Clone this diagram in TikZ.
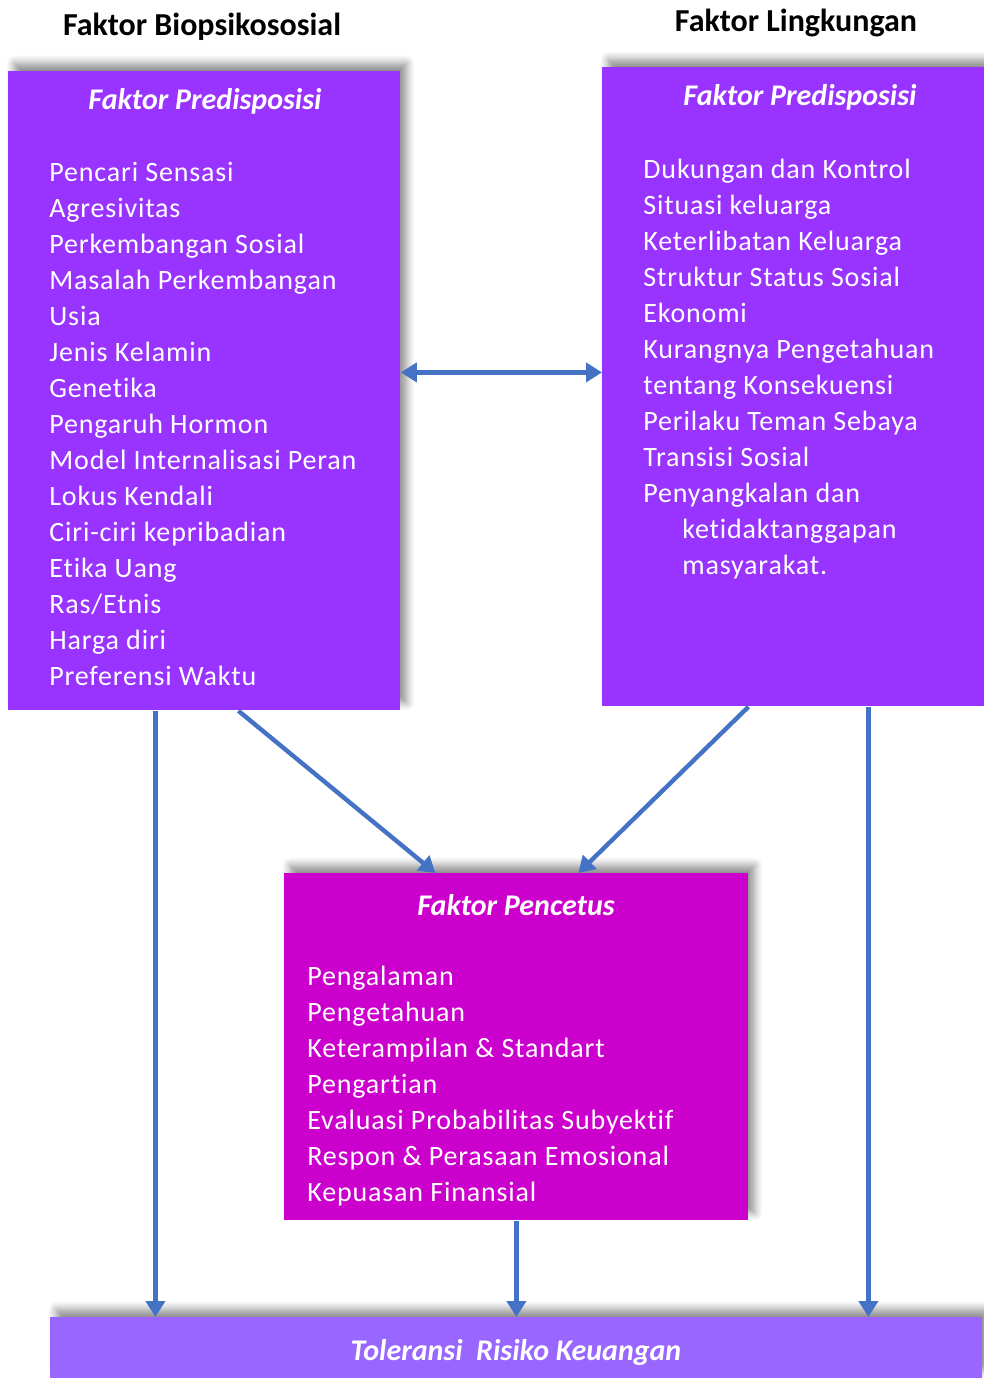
\documentclass[tikz,border=0pt]{standalone}
\usepackage{fontspec}
\setmainfont{Carlito}
\newfontfamily\renggang[LetterSpace=3,Ligatures={NoCommon,NoRequired,NoContextual}]{Carlito}
\usetikzlibrary{arrows.meta,shadows.blur}
\definecolor{ungu}{HTML}{9933FF}
\definecolor{magenta}{HTML}{CC00CC}
\definecolor{lavender}{HTML}{9966FF}
\definecolor{panah}{HTML}{4472C4}
\tikzset{
  kotak/.style={draw=none, anchor=north west, inner sep=0pt,
    blur shadow={shadow xshift=3pt, shadow yshift=4pt, shadow blur steps=8, shadow blur radius=4pt, shadow opacity=45}},
  judul/.style={font=\fontsize{16}{19}\selectfont\bfseries},
  subjudul/.style={text=white, font=\fontsize{15}{18}\selectfont\bfseries\itshape},
  daftar/.style={text=white, anchor=north west, inner sep=0pt, align=left,
    font=\renggang\fontsize{14}{18}\selectfont},
  konektor/.style={draw=panah, line width=2.2pt, -{Triangle[length=8pt, width=9.5pt]}},
}
\begin{document}
\begin{tikzpicture}[x=0.5pt, y=-0.5pt]
	\useasboundingbox (0,0) rectangle (984,1378);
	% judul kolom
	\node[judul] (jkiri) at (202,27) {Faktor Biopsikososial};
	\node[judul] (jkanan) at (796,23) {Faktor Lingkungan};
	% kotak
	\node[kotak, fill=ungu, minimum width=196pt, minimum height=319.5pt] (kiri) at (8,71) {};
	\node[kotak, fill=ungu, minimum width=191pt, minimum height=319.5pt] (kanan) at (602,67) {};
	\node[kotak, fill=magenta, minimum width=232pt, minimum height=173.5pt] (pencetus) at (284,873) {};
	\node[kotak, fill=lavender, minimum width=466pt, minimum height=30.5pt] (hasil) at (50,1317) {};
	% isi kotak kiri
	\node[subjudul] (tkiri) at (205,101) {Faktor Predisposisi};
	\node[daftar] (dkiri) at (49,162) {Pencari Sensasi\\Agresivitas\\Perkembangan Sosial\\Masalah Perkembangan\\Usia\\Jenis Kelamin\\Genetika\\Pengaruh Hormon\\Model Internalisasi Peran\\Lokus Kendali\\Ciri-ciri  kepribadian\\Etika Uang\\Ras/Etnis\\Harga diri\\Preferensi Waktu};
	% isi kotak kanan
	\node[subjudul] (tkanan) at (800,97) {Faktor Predisposisi};
	\node[daftar] (dkanan) at (643,159) {Dukungan dan Kontrol\\Situasi keluarga\\Keterlibatan Keluarga\\Struktur Status Sosial\\Ekonomi\\Kurangnya Pengetahuan\\tentang Konsekuensi\\Perilaku Teman Sebaya\\Transisi Sosial\\Penyangkalan dan\\\hspace*{19.5pt}ketidaktanggapan\\\hspace*{19.5pt}masyarakat.};
	% isi kotak pencetus
	\node[subjudul] (tpencetus) at (516,905) {Faktor Pencetus};
	\node[daftar] (dpencetus) at (307,966) {Pengalaman\\Pengetahuan\\Keterampilan \& Standart\\Pengartian\\Evaluasi Probabilitas Subyektif\\Respon \& Perasaan Emosional\\Kepuasan Finansial};
	% isi kotak hasil
	\node[subjudul] (thasil) at (516,1352) {Toleransi\ \ Risiko Keuangan};
	% konektor
	\draw[konektor, {Triangle[length=8pt, width=9.5pt]}-{Triangle[length=8pt, width=9.5pt]}] ([yshift=9.25pt]kiri.east) -- ([yshift=7.25pt]kanan.west);
	\draw[konektor] ([xshift=-24.5pt]kiri.south) -- ([xshift=-24.5pt]kiri.south |- hasil.north);
	\draw[konektor] ([xshift=17pt]kiri.south) -- ([xshift=-40.5pt]pencetus.north);
	\draw[konektor] ([xshift=-22.5pt]kanan.south) -- ([xshift=31pt]pencetus.north);
	\draw[konektor] (pencetus.south) -- (hasil.north);
	\draw[konektor] ([xshift=37.5pt]kanan.south) -- ([xshift=37.5pt]kanan.south |- hasil.north);
\end{tikzpicture}
\end{document}
